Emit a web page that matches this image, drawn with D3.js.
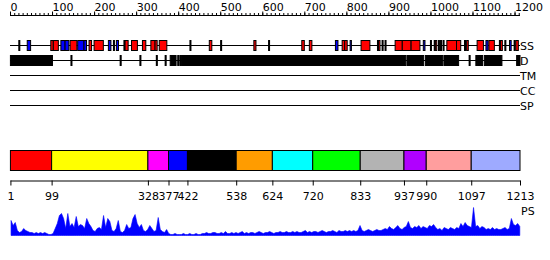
<!DOCTYPE html>
<html>
<head>
<meta charset="utf-8">
<script src="https://cdn.jsdelivr.net/npm/d3@7"></script>
<style>
  body { margin: 0; background: #fff; }
  text { font-family: "DejaVu Sans", sans-serif; font-size: 11px; }
</style>
</head>
<body>
<div id="chart"></div>
<script>
// protein length
const SEQ_LEN = 1213;

// secondary structure (residue ranges)
const helices = [[97,103],[103,115],[143,159],[188,194],[200,222],[273,281],[289,303],[315,323],
  [335,345],[345,350],[355,373],[474,480],[580,585],[694,700],[712,718],[790,796],[796,802],
  [835,856],[876,880],[916,933],[933,954],[954,975],[1011,1015],[1039,1062],[1062,1072],
  [1086,1090],[1111,1126],[1139,1152],[1165,1171],[1203,1209]];
const strands = [[41,49],[121,131],[131,140],[161,176],[176,182],[234,240],[253,258],
  [774,780],[809,812],[983,987],[1132,1137],[1188,1192]];
const turns = [21,246,271,428,501,615,874,885,892,1000,1009,1019,1024,1030,1081,1164,1177,1199];

// disorder
const disorder = [[1,101],[145,146],[262,263],[309,310],[348,349],[369,370],[381,395],[399,400],
  [404,406],[408,941],[944,984],[988,1029],[1032,1067],[1092,1093],[1108,1110],[1112,1124],
  [1128,1170],[1205,1213]];

// empty tracks
const emptyTracks = ["TM", "CC", "SP"];

// domain boundaries and colours
const bounds = [1,99,328,377,422,538,624,720,833,937,990,1097,1213];
const domainColors = ["#ff0000","#ffff00","#ff00ff","#0000ff","#000000","#ff9c00",
  "#00ffff","#00ff00","#b3b3b3","#b000ff","#ff9e9e","#9eaaff"];

// PS profile, one value per 5 residues
const psStep = 5;
const psValues = [15,10,13,5,3,4,7,5,4,3, 3,2,3,2,3,2,3,2,1,1,
  2,7,12,20,22,17,7,22,9,12, 8,19,9,11,10,7,17,12,9,5,
  4,7,8,6,20,8,17,14,5,4, 7,15,4,3,5,11,7,8,17,21,
  12,8,11,5,4,6,10,7,4,5, 18,6,4,3,6,2,1,1,2,1,
  1,1,2,1,1,2,1,1,2,1, 1,2,2,3,2,2,3,3,2,2,
  3,2,4,2,2,3,2,3,2,3, 4,2,3,2,3,3,2,3,4,3,
  2,3,3,4,3,2,3,3,4,3, 3,4,3,3,4,3,4,3,3,4,
  5,3,4,3,4,4,3,4,5,4, 3,4,4,5,4,3,5,4,4,5,
  4,5,4,5,4,5,10,5,4,5, 6,5,4,5,6,5,5,6,7,6,
  9,7,6,8,10,7,6,8,9,14, 8,7,9,8,10,7,9,8,7,10,
  9,11,8,6,7,5,8,7,6,8, 7,6,8,7,12,9,13,10,9,8,
  28,9,10,7,9,8,6,7,6,8, 6,7,6,6,7,8,6,7,17,11,
  10,12,9];

const width = 550, height = 260;
const svg = d3.select("#chart").append("svg")
  .attr("width", width).attr("height", height);

const x = d3.scaleLinear().domain([0, SEQ_LEN]).range([10, 520]);
const fmt = d3.format("d");

// top ruler
const ruler = svg.append("g").attr("transform", "translate(0,15.5)");
ruler.append("g")
  .call(d3.axisTop(x).tickValues(d3.range(0, 1211, 10)).tickSize(2.5).tickSizeOuter(0).tickFormat(""))
  .call(g => g.select(".domain").remove());
ruler.append("g")
  .call(d3.axisTop(x).tickValues(d3.range(0, 1201, 100)).tickSize(4).tickSizeOuter(0).tickFormat(fmt))
  .call(g => g.select(".domain").remove())
  .call(g => g.selectAll("text").attr("y", -4.5).attr("dy", 0)
    .attr("text-anchor", "start").style("font-size", "11px"));
ruler.append("line").attr("x1", x(0)).attr("x2", x(SEQ_LEN))
  .attr("stroke", "black");

function trackLine(y, label) {
  svg.append("line").attr("x1", x(0)).attr("x2", x(SEQ_LEN))
    .attr("y1", y).attr("y2", y).attr("stroke", "black");
  svg.append("text").attr("x", x(SEQ_LEN)).attr("y", y + 4).text(label);
}

// SS track
const ssY = 45.5;
trackLine(ssY, "SS");
const ss = svg.append("g");
ss.selectAll(".helix").data(helices).enter().append("rect")
  .attr("x", d => x(d[0])).attr("width", d => x(d[1]) - x(d[0]))
  .attr("y", ssY - 5).attr("height", 10)
  .attr("fill", "#ff0000").attr("stroke", "black");
ss.selectAll(".strand").data(strands).enter().append("rect")
  .attr("x", d => x(d[0])).attr("width", d => x(d[1]) - x(d[0]))
  .attr("y", ssY - 5).attr("height", 10)
  .attr("fill", "#0000ff").attr("stroke", "black");
ss.selectAll(".turn").data(turns).enter().append("rect")
  .attr("x", d => x(d)).attr("width", 1)
  .attr("y", ssY - 5).attr("height", 10)
  .attr("fill", "black").attr("stroke", "black");

// disorder track
const dY = 60.5;
trackLine(dY, "D");
svg.append("g").selectAll("rect").data(disorder).enter().append("rect")
  .attr("x", d => x(d[0])).attr("width", d => Math.max(1, x(d[1]) - x(d[0])))
  .attr("y", dY - 5).attr("height", 10)
  .attr("fill", "black").attr("stroke", "black");

emptyTracks.forEach((t, i) => trackLine(75.5 + i * 15, t));

// domains
const domains = bounds.slice(0, -1).map((b, i) => ({start: b, end: bounds[i + 1], color: domainColors[i]}));
svg.append("g").selectAll("rect").data(domains).enter().append("rect")
  .attr("x", d => x(d.start)).attr("width", d => x(d.end) - x(d.start))
  .attr("y", 150.5).attr("height", 20)
  .attr("fill", d => d.color).attr("stroke", "black");

svg.append("g").attr("transform", "translate(0,180.5)")
  .call(d3.axisBottom(x).tickValues(bounds).tickSize(5).tickSizeOuter(0).tickPadding(7).tickFormat(fmt))
  .call(g => g.selectAll("text").style("font-size", "11px").style("font-family", "DejaVu Sans"));

// PS profile
const yPs = d3.scaleLinear().domain([0, 30]).range([235.5, 205.5]);
const area = d3.area()
  .x((d, i) => x(Math.min(SEQ_LEN, i * psStep + psStep / 2)))
  .y0(yPs(0)).y1(d => yPs(d))
  .curve(d3.curveLinear);
svg.append("path").datum(psValues).attr("d", area)
  .attr("fill", "#0000ff").attr("stroke", "#0000ff").attr("stroke-width", 0.6);
svg.append("text").attr("x", 521).attr("y", 215).text("PS");
</script>
</body>
</html>
